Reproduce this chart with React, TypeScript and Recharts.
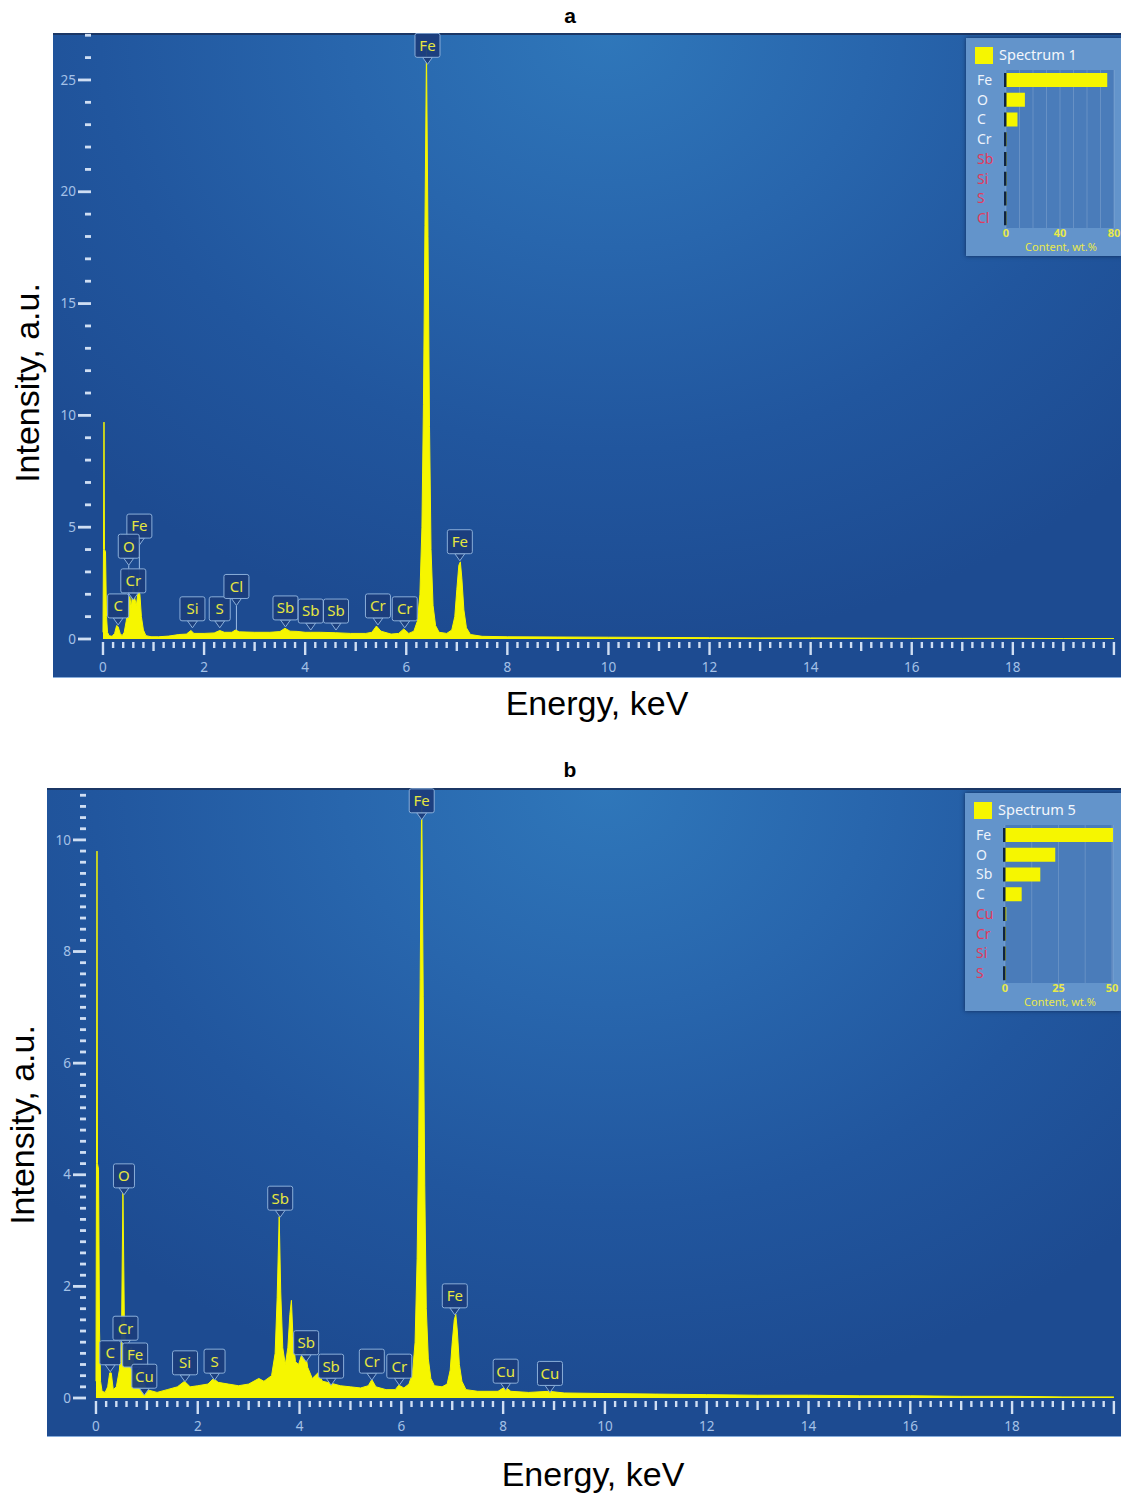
import React from "react";
import {
  ComposedChart,
  Area,
  XAxis,
  YAxis,
  ReferenceDot,
  ReferenceLine,
  BarChart,
  Bar,
  CartesianGrid,
} from "recharts";

// EDS spectrum a (energy keV, intensity a.u.)
const spectrumA: [number, number][] = [
  [0, 0.3], [0.01, 4.0], [0.02, 9.7], [0.03, 4.0], [0.05, 3.9], [0.07, 1.0], [0.09, 0.3],
  [0.12, 0.15], [0.18, 0.12], [0.23, 0.25], [0.27, 0.6], [0.3, 0.55], [0.34, 0.25], [0.38, 0.15],
  [0.42, 0.3], [0.46, 0.8], [0.5, 1.6], [0.53, 1.9], [0.56, 1.4], [0.6, 2.4], [0.63, 1.8],
  [0.66, 1.5], [0.7, 2.2], [0.73, 2.0], [0.76, 1.0], [0.8, 0.4], [0.85, 0.15], [0.95, 0.1],
  [1.1, 0.1], [1.3, 0.13], [1.5, 0.2], [1.65, 0.22], [1.74, 0.38], [1.8, 0.25], [2.0, 0.25],
  [2.2, 0.27], [2.31, 0.38], [2.4, 0.3], [2.55, 0.3], [2.62, 0.4], [2.7, 0.32], [3.0, 0.3],
  [3.3, 0.3], [3.5, 0.33], [3.6, 0.48], [3.7, 0.35], [3.84, 0.34], [4.0, 0.3], [4.1, 0.3],
  [4.3, 0.3], [4.6, 0.28], [4.9, 0.25], [5.2, 0.25], [5.32, 0.3], [5.41, 0.58], [5.5, 0.35],
  [5.7, 0.22], [5.85, 0.25], [5.95, 0.45], [6.05, 0.25], [6.15, 0.35], [6.22, 0.8], [6.27, 2.0],
  [6.31, 5.0], [6.34, 10.5], [6.37, 18.5], [6.4, 26.5], [6.43, 18.0], [6.46, 9.5], [6.49, 4.0],
  [6.53, 1.5], [6.58, 0.6], [6.65, 0.3], [6.8, 0.25], [6.9, 0.4], [6.96, 1.0], [7.0, 2.2],
  [7.04, 3.3], [7.07, 3.45], [7.1, 2.7], [7.14, 1.3], [7.19, 0.5], [7.27, 0.2], [7.5, 0.12],
  [8, 0.1], [9, 0.09], [10, 0.08], [11, 0.07], [12, 0.06], [13, 0.05], [14, 0.05], [15, 0.04],
  [16, 0.03], [17, 0.03], [18, 0.03], [19, 0.02], [20, 0.02],
];

// EDS spectrum b
const spectrumB: [number, number][] = [
  [0, 0.3], [0.01, 4.2], [0.02, 9.8], [0.03, 4.2], [0.05, 4.1], [0.07, 1.2], [0.09, 0.3],
  [0.12, 0.12], [0.18, 0.1], [0.23, 0.2], [0.27, 0.45], [0.3, 0.45], [0.34, 0.15], [0.4, 0.2],
  [0.46, 0.5], [0.5, 1.0], [0.53, 3.7], [0.56, 1.2], [0.6, 0.8], [0.64, 0.85], [0.7, 0.9],
  [0.75, 0.6], [0.8, 0.35], [0.87, 0.25], [0.93, 0.3], [1.0, 0.15], [1.2, 0.1], [1.4, 0.15],
  [1.6, 0.2], [1.74, 0.3], [1.85, 0.2], [2.0, 0.22], [2.2, 0.25], [2.31, 0.35], [2.4, 0.28],
  [2.6, 0.25], [2.8, 0.22], [3.0, 0.25], [3.2, 0.35], [3.3, 0.3], [3.45, 0.4], [3.52, 0.8],
  [3.56, 1.8], [3.6, 3.25], [3.63, 1.9], [3.67, 0.9], [3.72, 0.6], [3.77, 0.9], [3.81, 1.5],
  [3.84, 1.75], [3.87, 1.1], [3.92, 0.65], [3.98, 0.6], [4.05, 0.8], [4.1, 0.9], [4.16, 0.55],
  [4.25, 0.35], [4.36, 0.45], [4.45, 0.3], [4.6, 0.27], [4.8, 0.22], [5.0, 0.2], [5.2, 0.18],
  [5.35, 0.22], [5.42, 0.33], [5.5, 0.2], [5.7, 0.15], [5.88, 0.15], [5.95, 0.23], [6.05, 0.18],
  [6.15, 0.25], [6.22, 0.45], [6.27, 1.0], [6.31, 2.5], [6.34, 4.5], [6.37, 7.5], [6.4, 10.8],
  [6.43, 7.2], [6.46, 3.8], [6.49, 1.6], [6.53, 0.7], [6.58, 0.35], [6.65, 0.22], [6.8, 0.2],
  [6.9, 0.25], [6.96, 0.5], [7.0, 1.0], [7.04, 1.4], [7.07, 1.5], [7.1, 1.2], [7.14, 0.6],
  [7.19, 0.3], [7.27, 0.15], [7.5, 0.12], [7.9, 0.12], [8.04, 0.2], [8.15, 0.12], [8.5, 0.1],
  [8.9, 0.12], [9.2, 0.09], [10, 0.08], [11, 0.07], [12, 0.06], [13, 0.05], [14, 0.05],
  [15, 0.04], [16, 0.04], [17, 0.03], [18, 0.03], [19, 0.02], [20, 0.02],
];

// peak tags: element, energy, intensity at the pointer tip
const peaksA = [
  { el: "Fe", e: 0.72, tip: 4.2 },
  { el: "O", e: 0.51, tip: 3.3 },
  { el: "Cr", e: 0.6, tip: 1.75 },
  { el: "C", e: 0.3, tip: 0.63 },
  { el: "Si", e: 1.77, tip: 0.5 },
  { el: "S", e: 2.31, tip: 0.5 },
  { el: "Cl", e: 2.64, tip: 1.5 },
  { el: "Sb", e: 3.61, tip: 0.54 },
  { el: "Sb", e: 4.11, tip: 0.4 },
  { el: "Sb", e: 4.61, tip: 0.4 },
  { el: "Cr", e: 5.44, tip: 0.63 },
  { el: "Cr", e: 5.97, tip: 0.5 },
  { el: "Fe", e: 6.42, tip: 25.7 },
  { el: "Fe", e: 7.06, tip: 3.5 },
];
const leadsA = [
  { e: 0.72, from: 4.2, to: 2.2 },
  { e: 0.51, from: 3.3, to: 1.9 },
  { e: 2.64, from: 1.5, to: 0.4 },
];

const peaksB = [
  { el: "O", e: 0.55, tip: 3.64 },
  { el: "Cr", e: 0.58, tip: 0.91 },
  { el: "C", e: 0.28, tip: 0.47 },
  { el: "Fe", e: 0.77, tip: 0.43 },
  { el: "Cu", e: 0.95, tip: 0.05 },
  { el: "Si", e: 1.75, tip: 0.29 },
  { el: "S", e: 2.33, tip: 0.32 },
  { el: "Sb", e: 3.62, tip: 3.24 },
  { el: "Sb", e: 4.13, tip: 0.65 },
  { el: "Sb", e: 4.62, tip: 0.23 },
  { el: "Cr", e: 5.42, tip: 0.32 },
  { el: "Cr", e: 5.96, tip: 0.23 },
  { el: "Fe", e: 6.4, tip: 10.36 },
  { el: "Fe", e: 7.05, tip: 1.49 },
  { el: "Cu", e: 8.05, tip: 0.14 },
  { el: "Cu", e: 8.92, tip: 0.1 },
];

// inset quantification
const elementsA = ["Fe", "O", "C", "Cr", "Sb", "Si", "S", "Cl"];
const contentA = [75, 14, 8.5, 0.4, 0.3, 0.3, 0.3, 0.3];
const flaggedA = ["Sb", "Si", "S", "Cl"];
const contentTicksA = [0, 10, 20, 30, 40, 50, 60, 70, 80];
const contentLabelsA = [0, 40, 80];

const elementsB = ["Fe", "O", "Sb", "C", "Cu", "Cr", "Si", "S"];
const contentB = [50.5, 23.5, 16.5, 7.8, 0.6, 0.3, 0.3, 0.3];
const flaggedB = ["Cu", "Cr", "Si", "S"];
const contentTicksB = [0, 12.5, 25, 37.5, 50];
const contentLabelsB = [0, 25, 50];

const energyTicks = Array.from({ length: 101 }, (_, i) => Math.round(i * 2) / 10);
const yTicksA = Array.from({ length: 28 }, (_, i) => i);
const yTicksB = Array.from({ length: 55 }, (_, i) => Math.round(i * 2) / 10);

const YELLOW = "#f6f600";
const TICK = "#cfdef3";
const TICK_LABEL = "#a4c1e7";

const XTick = (props: any) => {
  const { x, y, payload } = props;
  const v = payload.value;
  const k = Math.round(v * 5);
  const whole = k % 5 === 0;
  const even = whole && (k / 5) % 2 === 0;
  const len = even ? 13 : whole ? 9 : 6;
  return (
    <g>
      <rect x={x - 1.2} y={y + 3} width={2.4} height={len} fill={TICK} />
      {even && v < 19 && (
        <text x={x} y={y + 33} textAnchor="middle" fontSize={13.5} fill={TICK_LABEL} fontFamily="Noto Sans">
          {v}
        </text>
      )}
    </g>
  );
};

const makeYTick = (every: number) => (props: any) => {
  const { x, y, payload } = props;
  const v = payload.value;
  const q = v / every;
  const major = Math.abs(q - Math.round(q)) < 1e-6;
  const len = major ? 13 : 6;
  return (
    <g>
      <rect x={x - len} y={y - 1.4} width={len} height={2.8} fill={TICK} />
      {major && (
        <text x={x - 15} y={y} dy="0.35em" textAnchor="end" fontSize={13.5} fill={TICK_LABEL} fontFamily="Noto Sans">
          {v}
        </text>
      )}
    </g>
  );
};

function PeakTag({ cx, cy, text }: { cx: number; cy: number; text: string }) {
  const w = text.length > 1 ? 25 : 21;
  const h = 24;
  const bottom = cy - 7;
  return (
    <g>
      <path
        d={`M${cx - 5},${bottom} L${cx},${cy} L${cx + 5},${bottom} Z`}
        fill="#1c3f7e"
        stroke="#8aaed9"
        strokeWidth={1}
      />
      <rect x={cx - w / 2} y={bottom - h} width={w} height={h} rx={2} fill="#1b3d7c" fillOpacity={0.95} stroke="#8aaed9" strokeWidth={1} />
      <text x={cx} y={bottom - h / 2} dy="0.36em" textAnchor="middle" fontSize={15} fill="#e6e640" fontFamily="Noto Sans">
        {text}
      </text>
    </g>
  );
}

function SpectrumPanel(props: {
  left: number;
  top: number;
  width: number;
  height: number;
  axisLeft: number;
  xMin: number;
  yMax: number;
  yTicks: number[];
  majorEvery: number;
  spectrum: [number, number][];
  peaks: { el: string; e: number; tip: number }[];
  leads: { e: number; from: number; to: number }[];
}) {
  const data = props.spectrum.map(([e, v]) => ({ e, v }));
  return (
    <div
      style={{
        position: "absolute",
        left: props.left,
        top: props.top,
        width: props.width,
        height: props.height,
        background:
          "radial-gradient(ellipse 70% 95% at 52% 0%, #2f77ba 0%, #2866ad 35%, #21569e 68%, #1d4b91 100%)",
      }}
    >
      <div style={{ position: "absolute", left: 0, top: 0, width: "100%", height: 2, background: "#1b3766" }} />
      <div style={{ position: "absolute", left: 0, bottom: 0, width: "100%", height: 1, background: "#86acdb" }} />
      <ComposedChart
        width={props.width}
        height={props.height}
        data={data}
        margin={{ top: 0, right: 0, bottom: 0, left: 0 }}
      >
        <XAxis
          type="number"
          dataKey="e"
          domain={[props.xMin, 20.14]}
          allowDataOverflow
          ticks={energyTicks}
          interval={0}
          axisLine={false}
          tickLine={false}
          tickSize={0}
          tickMargin={0}
          height={39}
          tick={XTick}
        />
        <YAxis
          type="number"
          domain={[0, props.yMax]}
          allowDataOverflow
          ticks={props.yTicks}
          interval={0}
          axisLine={false}
          tickLine={false}
          tickSize={0}
          tickMargin={0}
          width={props.axisLeft}
          tick={makeYTick(props.majorEvery)}
        />
        <Area
          type="linear"
          dataKey="v"
          stroke={YELLOW}
          strokeWidth={1}
          fill={YELLOW}
          fillOpacity={1}
          dot={false}
          activeDot={false}
          isAnimationActive={false}
        />
        {props.leads.map((l, i) => (
          <ReferenceLine
            key={`lead-${i}`}
            segment={[
              { x: l.e, y: l.from },
              { x: l.e, y: l.to },
            ]}
            stroke="#9cbde6"
            strokeWidth={1}
          />
        ))}
        {props.peaks.map((p, i) => (
          <ReferenceDot
            key={`peak-${i}`}
            x={p.e}
            y={p.tip}
            r={1}
            shape={(s: any) => <PeakTag cx={s.cx} cy={s.cy} text={p.el} />}
          />
        ))}
      </ComposedChart>
    </div>
  );
}

const InsetBar = (p: any) => (
  <g>
    <rect x={p.x} y={p.y} width={Math.max(p.width, 0)} height={p.height} fill={YELLOW} />
    <rect x={p.x - 2} y={p.y} width={2.5} height={p.height} fill="#0e2340" />
  </g>
);

function Inset(props: {
  left: number;
  top: number;
  name: string;
  elements: string[];
  content: number[];
  flagged: string[];
  max: number;
  ticks: number[];
  labels: number[];
}) {
  const rows = props.elements.map((el, i) => ({ el, c: props.content[i] }));
  const W = 156;
  const H = 218;
  return (
    <div
      style={{
        position: "absolute",
        left: props.left,
        top: props.top,
        width: W,
        height: H,
        background: "#6394cb",
        boxShadow: "0 0 4px rgba(8,25,60,0.7)",
        fontFamily: "Noto Sans",
      }}
    >
      <div style={{ position: "absolute", left: 0, top: 0 }}>
        <BarChart
          width={W}
          height={H}
          layout="vertical"
          data={rows}
          margin={{ top: 32, right: 8, bottom: 0, left: 0 }}
          barCategoryGap={3}
        >
          <CartesianGrid horizontal={false} stroke="rgba(255,255,255,0.16)" fill="#4a7cba" />
          <XAxis
            type="number"
            domain={[0, props.max]}
            ticks={props.ticks}
            interval={0}
            axisLine={false}
            tickLine={false}
            tickSize={0}
            tickMargin={0}
            height={28}
            tick={(t: any) =>
              props.labels.includes(t.payload.value) ? (
                <text x={t.x} y={t.y + 9} textAnchor="middle" fontSize={11} fontWeight="bold" fill="#e9e94a">
                  {t.payload.value}
                </text>
              ) : (
                <g />
              )
            }
          />
          <YAxis
            type="category"
            dataKey="el"
            width={40}
            axisLine={false}
            tickLine={false}
            tickSize={0}
            tickMargin={0}
            interval={0}
            tick={(t: any) => (
              <text
                x={t.x - 29}
                y={t.y}
                dy="0.35em"
                textAnchor="start"
                fontSize={14}
                fill={props.flagged.includes(t.payload.value) ? "#e23a5c" : "#eef3fb"}
              >
                {t.payload.value}
              </text>
            )}
          />
          <Bar dataKey="c" barSize={14} isAnimationActive={false} shape={InsetBar} />
        </BarChart>
      </div>
      <div style={{ position: "absolute", left: 9, top: 9, width: 18, height: 17, background: YELLOW }} />
      <div style={{ position: "absolute", left: 33, top: 6, fontSize: 14.5, color: "#f4f7fc", lineHeight: "20px" }}>
        {props.name}
      </div>
      <div
        style={{
          position: "absolute",
          left: 40,
          width: 110,
          top: 202,
          textAlign: "center",
          fontSize: 11,
          color: "#e9e94a",
          lineHeight: "14px",
        }}
      >
        Content, wt.%
      </div>
    </div>
  );
}

const bigText: React.CSSProperties = {
  position: "absolute",
  fontFamily: "'Liberation Sans', Arial, sans-serif",
  fontSize: 34,
  color: "#000",
  whiteSpace: "nowrap",
  textAlign: "center",
  lineHeight: "40px",
};

export default function App() {
  return (
    <div style={{ position: "relative", width: 1121, height: 1494, background: "#fff", overflow: "hidden" }}>
      <style>{"body{margin:0}"}</style>

      <div style={{ ...bigText, left: 520, width: 100, top: -4, fontSize: 21, fontWeight: "bold" }}>a</div>
      <SpectrumPanel
        left={53}
        top={33}
        width={1068}
        height={645}
        axisLeft={38}
        xMin={-0.237}
        yMax={27.1}
        yTicks={yTicksA}
        majorEvery={5}
        spectrum={spectrumA}
        peaks={peaksA}
        leads={leadsA}
      />
      <Inset
        left={966}
        top={38}
        name="Spectrum 1"
        elements={elementsA}
        content={contentA}
        flagged={flaggedA}
        max={80}
        ticks={contentTicksA}
        labels={contentLabelsA}
      />
      <div style={{ ...bigText, left: 397, width: 400, top: 683 }}>Energy, keV</div>
      <div style={{ ...bigText, left: 27 - 150, width: 300, top: 383 - 20, transform: "rotate(-90deg)" }}>
        Intensity, a.u.
      </div>

      <div style={{ ...bigText, left: 520, width: 100, top: 750, fontSize: 21, fontWeight: "bold" }}>b</div>
      <SpectrumPanel
        left={47}
        top={788}
        width={1074}
        height={649}
        axisLeft={39}
        xMin={-0.196}
        yMax={10.93}
        yTicks={yTicksB}
        majorEvery={2}
        spectrum={spectrumB}
        peaks={peaksB}
        leads={[]}
      />
      <Inset
        left={965}
        top={793}
        name="Spectrum 5"
        elements={elementsB}
        content={contentB}
        flagged={flaggedB}
        max={50}
        ticks={contentTicksB}
        labels={contentLabelsB}
      />
      <div style={{ ...bigText, left: 393, width: 400, top: 1454 }}>Energy, keV</div>
      <div style={{ ...bigText, left: 22 - 150, width: 300, top: 1125 - 20, transform: "rotate(-90deg)" }}>
        Intensity, a.u.
      </div>
    </div>
  );
}
